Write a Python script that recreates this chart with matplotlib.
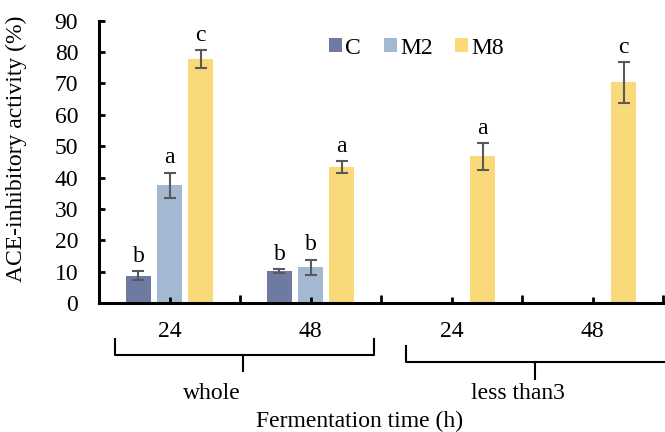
import numpy as np
import matplotlib
matplotlib.use("Agg")
import matplotlib.pyplot as plt
from matplotlib.lines import Line2D

plt.rcParams['font.family'] = ['Liberation Serif', 'DejaVu Serif']

# data
time_labels = ['24', '48', '24', '48']
group_names = ['whole', 'less than3']
series = ['C', 'M2', 'M8']
C_vals = [8.8, 10.2, np.nan, np.nan]
C_err = [1.5, 0.7, np.nan, np.nan]
M2_vals = [37.6, 11.5, np.nan, np.nan]
M2_err = [4.0, 2.4, np.nan, np.nan]
M8_vals = [77.8, 43.5, 46.8, 70.4]
M8_err = [2.8, 1.9, 4.3, 6.5]
C_sig = ['b', 'b', '', '']
M2_sig = ['a', 'b', '', '']
M8_sig = ['c', 'a', 'a', 'c']

colors = ['#6E7AA2', '#A2B9D1', '#FAD97A']
fs = 17

fig = plt.figure(figsize=(6.65, 4.32), dpi=100)
ax = fig.add_axes([0.1489, 0.2979, 0.8481, 0.6543])

x = np.arange(len(time_labels))
width = 0.177
offset = 0.22
vals = [C_vals, M2_vals, M8_vals]
errs = [C_err, M2_err, M8_err]
sigs = [C_sig, M2_sig, M8_sig]
for i, name in enumerate(series):
    pos = x + (i - 1) * offset
    ax.bar(pos, vals[i], width, color=colors[i], label=name,
           yerr=errs[i], error_kw=dict(ecolor='#595959', elinewidth=1.5,
                                       capsize=4, capthick=1.5))
    for p, v, e, s in zip(pos, vals[i], errs[i], sigs[i]):
        if s:
            ax.annotate(s, (p, v + e), xytext=(0, 3), textcoords='offset points',
                        ha='center', va='bottom', fontsize=fs)

ax.set_xlim(-0.5, 3.5)
ax.set_ylim(0, 90)
ax.set_yticks(np.arange(0, 91, 10))
ax.tick_params(axis='y', labelsize=fs, direction='in', length=4, width=2, pad=15)
ax.set_xticks(np.arange(-0.5, 3.6, 1))
ax.set_xticklabels([])
ax.set_xticks(x, minor=True)
ax.set_xticklabels(time_labels, minor=True, fontsize=fs)
ax.tick_params(axis='x', which='major', direction='in', length=6, width=2)
ax.tick_params(axis='x', which='minor', direction='in', length=4, width=2, pad=13)
for s in ['top', 'right']:
    ax.spines[s].set_visible(False)
for s in ['left', 'bottom']:
    ax.spines[s].set_linewidth(2.2)

ax.set_ylabel('ACE-inhibitory activity (%)', fontsize=17)
ax.yaxis.set_label_coords(-0.127, 0.546)

# group brackets below the axis (data x, axes y)
tr = ax.get_xaxis_transform()
def bracket(x0, x1, xc, ytop, ybar, ytick):
    ax.add_line(Line2D([x0, x0, x1, x1], [ytop, ybar, ybar, ytop], transform=tr,
                       color='black', lw=1.5, clip_on=False))
    ax.add_line(Line2D([xc, xc], [ybar, ytick], transform=tr,
                       color='black', lw=1.5, clip_on=False))

bracket(-0.39, 1.45, 0.52, -0.126, -0.183, -0.240)
bracket(1.68, 3.6, 2.59, -0.151, -0.207, -0.268)
ax.text(0.3, -0.32, group_names[0], transform=tr, ha='center', va='center', fontsize=fs)
ax.text(2.47, -0.32, group_names[1], transform=tr, ha='center', va='center', fontsize=fs)
ax.text(1.35, -0.418, 'Fermentation time (h)', transform=tr, ha='center',
        va='center', fontsize=fs)

ax.legend(loc='center', bbox_to_anchor=(0.563, 0.903), ncol=3, frameon=False,
          fontsize=fs, handlelength=0.55, handleheight=0.55, handletextpad=0.15,
          columnspacing=0.95, borderpad=0)

fig.savefig('out.png', dpi=100)
